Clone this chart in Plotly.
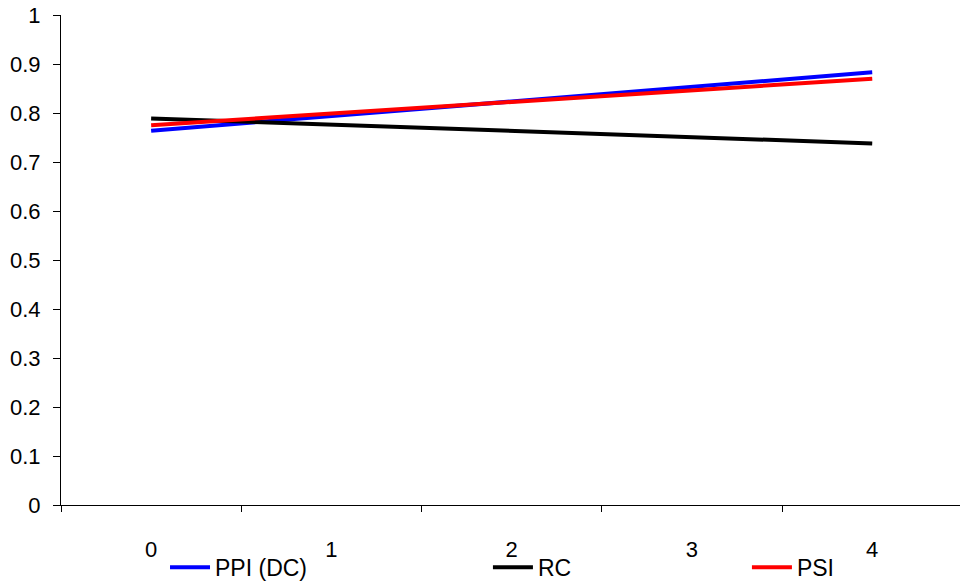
import plotly.graph_objects as go

categories = ["0", "1", "2", "3", "4"]
ppi_dc = [0.764, 0.794, 0.823, 0.853, 0.883]
rc = [0.789, 0.776, 0.763, 0.751, 0.738]
psi = [0.775, 0.799, 0.822, 0.846, 0.870]
y_ticks = [0, 0.1, 0.2, 0.3, 0.4, 0.5, 0.6, 0.7, 0.8, 0.9, 1]
y_tick_labels = ["0", "0.1", "0.2", "0.3", "0.4", "0.5", "0.6", "0.7", "0.8", "0.9", "1"]

series = [
    ("PPI (DC)", ppi_dc, "#0000FF", "legend", 0.1157),
    ("RC", rc, "#000000", "legend2", 0.4749),
    ("PSI", psi, "#FF0000", "legend3", 0.7630),
]

fig = go.Figure()
for name, vals, color, leg, _ in series:
    fig.add_trace(go.Scatter(
        x=categories, y=vals, mode="lines", name=name,
        line=dict(color=color, width=4), legend=leg,
    ))

font = dict(family="Liberation Sans, Arial, sans-serif", size=22, color="#000000")
leg_font = dict(family="Liberation Sans, Arial, sans-serif", size=23, color="#000000")
leg_common = dict(orientation="h", yanchor="middle", xanchor="left",
                  bgcolor="rgba(0,0,0,0)", font=leg_font, itemwidth=40)
layout_legends = {}
for name, vals, color, leg, xpos in series:
    layout_legends[leg] = dict(x=xpos, y=-0.127, **leg_common)

fig.update_layout(
    width=960, height=584,
    margin=dict(l=61, r=0, t=15, b=79, autoexpand=False),
    paper_bgcolor="white", plot_bgcolor="white",
    font=font,
    showlegend=True,
    **layout_legends,
    xaxis=dict(
        type="category", range=[-0.5, 4.487], tickson="boundaries",
        ticks="outside", ticklen=6, tickcolor="#000000", tickwidth=1,
        showline=True, linecolor="#000000", linewidth=1,
        showgrid=False, zeroline=False, tickfont=font,
        ticklabelstandoff=25, automargin=False,
    ),
    yaxis=dict(
        range=[0, 1], tickvals=y_ticks, ticktext=y_tick_labels,
        ticks="outside", ticklen=7, tickcolor="#000000", tickwidth=1,
        showline=True, linecolor="#000000", linewidth=1,
        showgrid=False, zeroline=False, tickfont=font,
        ticklabelstandoff=8, automargin=False,
    ),
)

fig.write_html("out.html", config={"displayModeBar": False},
               post_script="document.body.style.margin='0';")
